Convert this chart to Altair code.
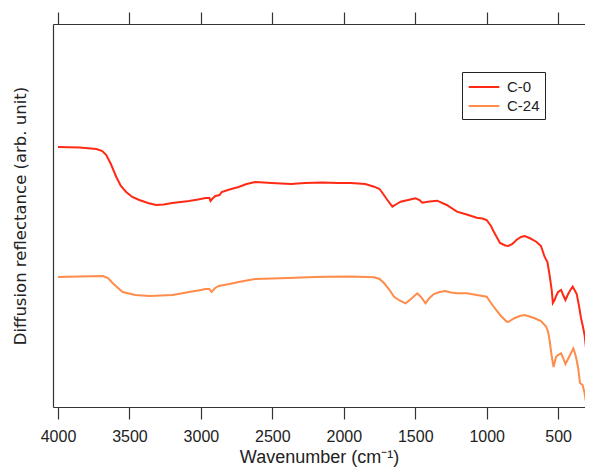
import altair as alt
import pandas as pd

# Wavenumbers (cm^-1) and arbitrary reflectance values
wn_c0 = [4000, 3850, 3731, 3690, 3662, 3630, 3592, 3560, 3523, 3480, 3431, 3370, 3315, 3260,
         3201, 3140, 3083, 3020, 2967, 2940, 2933, 2915, 2898, 2870, 2854, 2800, 2736, 2680,
         2620, 2560, 2507, 2440, 2368, 2273, 2150, 2042, 1950, 1850, 1787, 1750, 1729, 1700,
         1660, 1630, 1602, 1550, 1498, 1470, 1451, 1400, 1347, 1280, 1208, 1140, 1069, 1030,
         1000, 970, 953, 907, 870, 849, 820, 792, 760, 734, 700, 653, 620, 595, 575, 560,
         545, 537, 525, 514, 500, 479, 465, 449, 430, 410, 398, 385, 370, 355, 340, 329, 315, 305]
py_c0 = [147, 147.5, 149, 151, 155, 164, 177, 186, 192, 197, 200, 203, 205, 204.5,
         203, 202, 201, 199.5, 198, 198, 201, 198, 196, 195, 192, 189.5, 187, 184,
         182, 182.5, 183, 183.5, 184, 183, 182.5, 183, 183, 184, 186.7, 189, 193, 199,
         206.7, 204, 201.7, 200, 198.3, 200, 202.7, 201.5, 200.7, 205, 211.7, 214.5, 217.7, 218.5,
         220, 226, 231, 243, 245.5, 246, 244, 240, 237, 236, 238, 241.7, 246, 256.7, 262, 275,
         290, 303, 300, 296, 292, 290, 295, 300, 294, 289, 286.7, 290, 294, 305, 318, 325, 335, 348]

wn_c24 = [4000, 3850, 3685, 3650, 3618, 3580, 3547, 3460, 3361, 3280, 3199, 3140, 3083, 3020,
          2967, 2940, 2926, 2900, 2875, 2800, 2736, 2680, 2620, 2500, 2389, 2200, 2111, 1950,
          1787, 1750, 1717, 1680, 1648, 1610, 1567, 1530, 1486, 1460, 1428, 1400, 1370, 1330,
          1289, 1250, 1208, 1139, 1069, 1000, 970, 931, 900, 861, 849, 810, 769, 734, 700, 665,
          620, 583, 570, 560, 545, 532, 515, 502, 479, 465, 449, 420, 394, 385, 375, 360, 347,
          329, 315, 305]
py_c24 = [277, 276.5, 276, 278, 283, 288, 292, 295, 296, 295.5, 295, 293.5, 292, 290.5,
          289, 289, 292, 288, 286, 284, 282, 280.5, 279, 278.5, 278, 277, 276.7, 276.5,
          277.3, 279, 283.3, 290, 296.7, 300.5, 303.3, 299, 293.3, 297, 303.3, 298, 294, 292,
          291, 292.5, 293.3, 293.3, 295, 296.7, 303, 310.5, 316, 321.5, 322, 318.5, 316, 315, 316.5, 318.3,
          321, 326.7, 332, 340, 356, 367, 357, 355, 353.3, 358, 364, 356, 348.5, 352, 357, 368, 383,
          385, 393, 402]

series_names = ["C-0", "C-24"]
series_colors = ["#ff2a14", "#ff8c4a"]
tick_values = [4000, 3500, 3000, 2500, 2000, 1500, 1000, 500]

rows = []
for w, p in zip(wn_c0, py_c0):
    rows.append({"wn": w, "r": 407 - p, "series": "C-0"})
for w, p in zip(wn_c24, py_c24):
    rows.append({"wn": w, "r": 407 - p, "series": "C-24"})
df = pd.DataFrame(rows)

FONT = "Liberation Sans"
AX = "#333333"

xscale = alt.Scale(domain=[312, 4035], reverse=True, nice=False, zero=False)
yscale = alt.Scale(domain=[0, 383], nice=False, zero=False)

yaxis = alt.Axis(ticks=False, labels=False, grid=False, domainColor=AX, domainWidth=1.2,
                 title="Diffusion reflectance (arb. unit)", titleFont="DejaVu Sans",
                 titleFontSize=16.5, titleFontWeight="normal", titleColor="#222",
                 titlePadding=25)

lines = alt.Chart(df).mark_line(strokeWidth=2, clip=True).encode(
    x=alt.X("wn:Q", scale=xscale,
            axis=alt.Axis(orient="bottom", values=tick_values, format="d", grid=False,
                          tickSize=12, tickColor=AX, tickWidth=1.2, domainColor=AX, domainWidth=1.2,
                          labelFontSize=16, labelFont=FONT, labelColor="#222", labelPadding=9,
                          title="Wavenumber (cm⁻¹)", titleFont=FONT, titleFontSize=18,
                          titleFontWeight="normal", titleColor="#222", titlePadding=4)),
    y=alt.Y("r:Q", scale=yscale, axis=yaxis),
    color=alt.Color("series:N",
                    scale=alt.Scale(domain=series_names, range=series_colors),
                    legend=alt.Legend(title=None, orient="none", legendX=409, legendY=48,
                                      symbolType="M-1.7,0L1.7,0", symbolSize=324,
                                      symbolStrokeWidth=2,
                                      labelFont=FONT, labelFontSize=15, labelColor="#222",
                                      strokeColor="#222", fillColor="white", padding=5,
                                      rowPadding=1, labelOffset=13, symbolOffset=7)),
    detail="series:N",
)

top = alt.Chart(df).mark_line(opacity=0, clip=True).encode(
    x=alt.X("wn:Q", scale=xscale,
            axis=alt.Axis(orient="top", values=tick_values, labels=False, grid=False, title=None,
                          tickSize=12, tickColor=AX, tickWidth=1.2, domainColor=AX, domainWidth=1.2)),
    y=alt.Y("r:Q", scale=yscale, axis=yaxis),
)

chart = alt.layer(lines, top).resolve_axis(x="independent").properties(
    width=532, height=383,
    autosize=alt.AutoSizeParams(type="none"),
    padding={"left": 45, "top": 16, "right": 0, "bottom": 61},
).configure_view(stroke=None)

chart.save("out.html", embed_options={"renderer": "svg", "actions": False})
